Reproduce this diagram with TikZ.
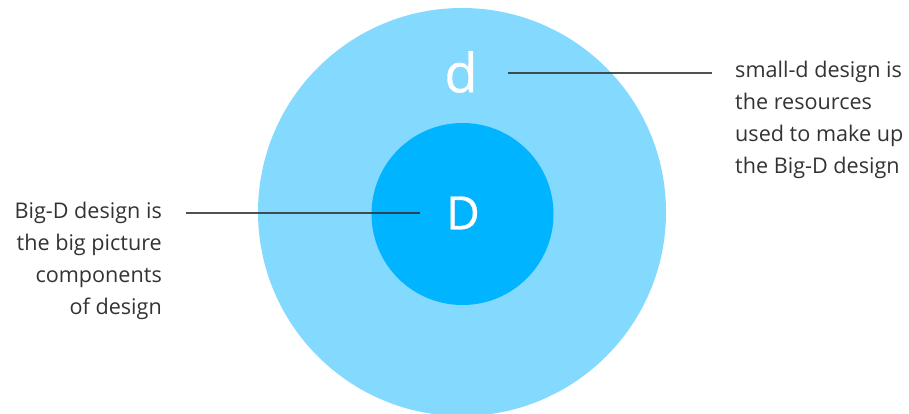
\documentclass[tikz,border=0pt]{standalone}
\usepackage{fontspec}
\setmainfont{Open Sans}
\usepackage{tikz}
\usepackage{xcolor}
\definecolor{outerblue}{HTML}{84D9FE}
\definecolor{innerblue}{HTML}{00B4FF}
\definecolor{textgray}{HTML}{333333}

\begin{document}
\begin{tikzpicture}[x=1pt,y=-1pt,every node/.style={inner sep=0pt,text=textgray},
  leader/.style={draw=textgray,line width=1.1pt,opacity=0.85},
  caption/.style={font=\fontsize{21.6}{32.2}\selectfont},
  letter/.style={text=white,font=\addfontfeatures{FakeBold=0.6}\fontsize{#1}{#1}\selectfont}]
\useasboundingbox (0,0) rectangle (909,414);
\fill[outerblue] (462,212) circle (204);
\fill[innerblue] (462.5,214) circle (91);
\node[letter=54] (smalld) at (461,72) {d};
\node[letter=46] (bigD) at (463,213) {D};
\node[caption,align=right,anchor=north east] (bigtext) at (162,201.5) {Big-D design is\\the big picture\\components\\of design};
\node[caption,align=left,anchor=north west] (smalltext) at (735,60.5) {small-d design is\\the resources\\used to make up\\the Big-D design};
\coordinate (bigend) at (186,213);
\coordinate (smallend) at (712,73);
\draw[leader] (bigend) -- ([xshift=-26pt]bigD.west);
\draw[leader] ([xshift=30pt]smalld.east |- smallend) -- (smallend);
\end{tikzpicture}
\end{document}
